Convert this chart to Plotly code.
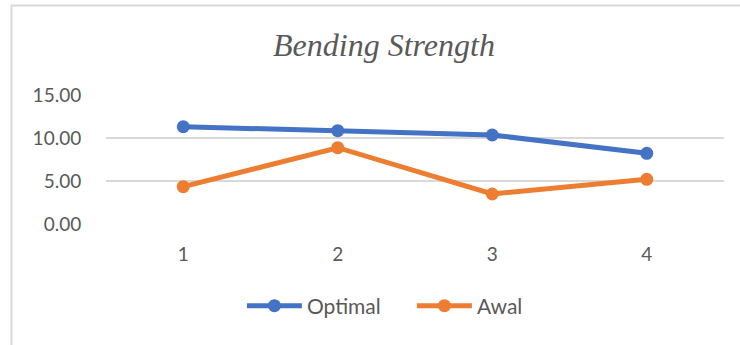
import plotly.graph_objects as go

# Sample numbers and bending strength results
samples = [1, 2, 3, 4]
optimal = [11.31, 10.85, 10.35, 8.22]
awal = [4.34, 8.87, 3.49, 5.20]
y_ticks = [0, 5, 10, 15]
y_tick_labels = ["0.00", "5.00", "10.00", "15.00"]

BLUE = "#4472C4"
ORANGE = "#ED7D31"
TEXT = "#595959"
GRID = "#D9D9D9"

fig = go.Figure()
fig.add_trace(go.Scatter(
    x=samples, y=optimal, name="Optimal", mode="lines+markers",
    line=dict(color=BLUE, width=5), marker=dict(color=BLUE, size=13),
))
fig.add_trace(go.Scatter(
    x=samples, y=awal, name="Awal", mode="lines+markers",
    line=dict(color=ORANGE, width=5), marker=dict(color=ORANGE, size=13),
))

# Chart-area frame (left and top edges visible)
fig.add_shape(
    type="rect", xref="paper", yref="paper",
    x0=-0.1529, x1=1.2, y0=-1.3, y1=1.6938,
    line=dict(color="#D9D9D9", width=2), fillcolor="rgba(0,0,0,0)",
    layer="below",
)

fig.update_layout(
    width=740, height=345,
    margin=dict(l=106, r=16, t=95, b=121),
    paper_bgcolor="white", plot_bgcolor="white",
    title=dict(
        text="<i>Bending Strength</i>",
        font=dict(family="Liberation Serif", size=32, color=TEXT),
        x=384 / 740, xanchor="center", xref="container",
        y=1 - 45 / 345, yanchor="middle", yref="container",
    ),
    xaxis=dict(
        range=[0.5, 4.5], tickvals=samples, ticktext=[str(s) for s in samples],
        showgrid=False, zeroline=False, showline=False,
        tickfont=dict(family="Lato", size=19, color=TEXT),
        ticks="outside", ticklen=13, tickcolor="rgba(0,0,0,0)",
    ),
    yaxis=dict(
        range=[0, 15], tickvals=y_ticks, ticktext=y_tick_labels,
        showgrid=True, gridcolor=GRID, gridwidth=1.5, zeroline=False,
        showline=False,
        tickfont=dict(family="Lato", size=19, color=TEXT),
        ticks="outside", ticklen=20, tickcolor="rgba(0,0,0,0)",
    ),
    showlegend=True,
    legend=dict(
        orientation="h", x=0.495, xanchor="center",
        y=-0.636, yanchor="middle",
        font=dict(family="Lato", size=21, color=TEXT),
        bgcolor="rgba(0,0,0,0)",
        itemwidth=55, entrywidth=100,
    ),
)

fig.write_html("out.html")
